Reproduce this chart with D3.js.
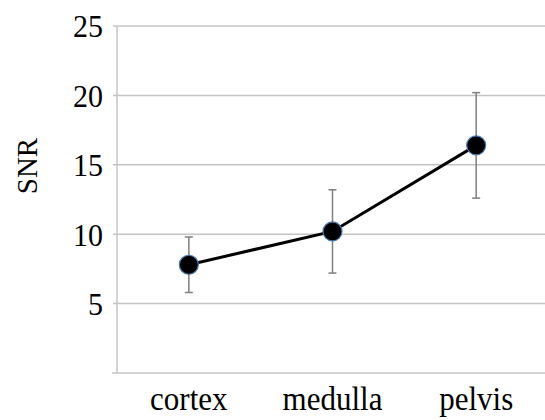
<!DOCTYPE html>
<html>
<head>
<meta charset="utf-8">
<script src="https://cdn.jsdelivr.net/npm/d3@7"></script>
<style>
  body { margin: 0; background: #fff; }
  text { font-family: "Liberation Serif", "Times New Roman", serif; }
</style>
</head>
<body>
<div id="chart"></div>
<script>
var categories = ["cortex", "medulla", "pelvis"];
var snrMean = [7.8, 10.2, 16.4];
var snrUpper = [9.8, 13.2, 20.2];
var snrLower = [5.8, 7.2, 12.6];
var yTicks = [5, 10, 15, 20, 25];

var width = 545, height = 420;
var margin = {top: 26, right: -3, bottom: 47, left: 117};

var svg = d3.select("#chart").append("svg")
  .attr("width", width)
  .attr("height", height);

var x = d3.scaleBand()
  .domain(categories)
  .range([margin.left, width - margin.right]);

var y = d3.scaleLinear()
  .domain([0, 25])
  .range([height - margin.bottom, margin.top]);

// gridlines
svg.append("g")
  .selectAll("line")
  .data(yTicks)
  .enter()
  .append("line")
  .attr("x1", margin.left - 4)
  .attr("x2", width)
  .attr("y1", function(d) { return y(d); })
  .attr("y2", function(d) { return y(d); })
  .attr("stroke", "#c4c4c4")
  .attr("stroke-width", 1.5);

// y axis line
svg.append("line")
  .attr("x1", margin.left).attr("x2", margin.left)
  .attr("y1", y(25)).attr("y2", y(0))
  .attr("stroke", "#c4c4c4")
  .attr("stroke-width", 1.5);

// x axis line
svg.append("line")
  .attr("x1", margin.left - 5).attr("x2", width)
  .attr("y1", y(0)).attr("y2", y(0))
  .attr("stroke", "#c4c4c4")
  .attr("stroke-width", 1.5);

// y tick labels
svg.append("g")
  .selectAll("text")
  .data(yTicks)
  .enter()
  .append("text")
  .attr("transform", function(d) { return "translate(" + (margin.left - 14) + "," + y(d) + ") scale(1,1.08)"; })
  .attr("dy", "0.35em")
  .attr("text-anchor", "end")
  .attr("font-size", 30)
  .attr("fill", "#000")
  .text(function(d) { return d; });

// x labels
svg.append("g")
  .selectAll("text")
  .data(categories)
  .enter()
  .append("text")
  .attr("transform", function(d) { return "translate(" + (x(d) + x.bandwidth() / 2) + ",410) scale(1,1.12)"; })
  .attr("text-anchor", "middle")
  .attr("font-size", 31)
  .attr("fill", "#000")
  .text(function(d) { return d; });

// y title
svg.append("text")
  .attr("transform", "translate(37," + 166 + ") rotate(-90)")
  .attr("text-anchor", "middle")
  .attr("font-size", 29)
  .attr("fill", "#000")
  .text("SNR");

var cx = function(i) { return x(categories[i]) + x.bandwidth() / 2; };

// error bars
var err = svg.append("g").attr("stroke", "#7f7f7f").attr("stroke-width", 1.5);
categories.forEach(function(c, i) {
  err.append("line")
    .attr("x1", cx(i)).attr("x2", cx(i))
    .attr("y1", y(snrUpper[i])).attr("y2", y(snrLower[i]));
  err.append("line")
    .attr("x1", cx(i) - 4).attr("x2", cx(i) + 4)
    .attr("y1", y(snrUpper[i])).attr("y2", y(snrUpper[i]));
  err.append("line")
    .attr("x1", cx(i) - 4).attr("x2", cx(i) + 4)
    .attr("y1", y(snrLower[i])).attr("y2", y(snrLower[i]));
});

// line
var line = d3.line()
  .x(function(d, i) { return cx(i); })
  .y(function(d) { return y(d); });

svg.append("path")
  .datum(snrMean)
  .attr("d", line)
  .attr("fill", "none")
  .attr("stroke", "#000")
  .attr("stroke-width", 3);

// markers
svg.append("g")
  .selectAll("circle")
  .data(snrMean)
  .enter()
  .append("circle")
  .attr("cx", function(d, i) { return cx(i); })
  .attr("cy", function(d) { return y(d); })
  .attr("r", 9.5)
  .attr("fill", "#000")
  .attr("stroke", "#4a78b0")
  .attr("stroke-width", 1.2);
</script>
</body>
</html>
